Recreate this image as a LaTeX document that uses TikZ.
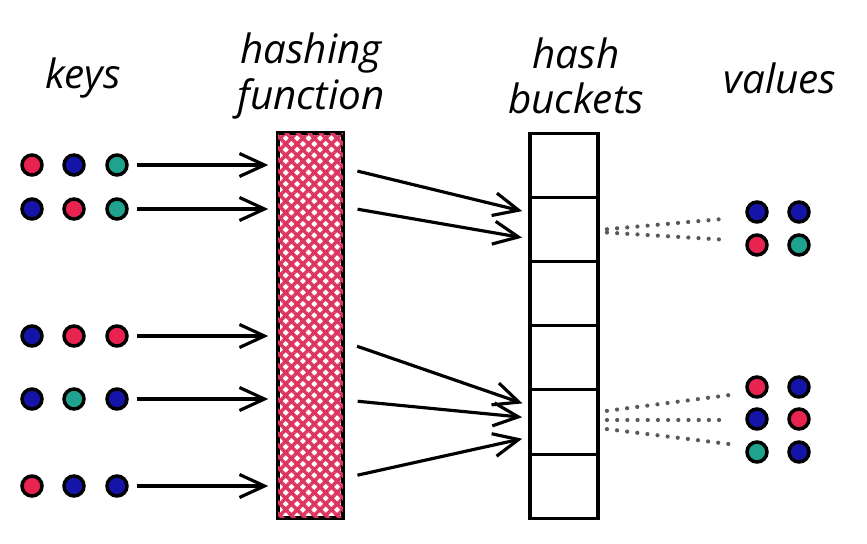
\documentclass[tikz,border=0pt]{standalone}
\usepackage{fontspec}
\setmainfont{Open Sans}
\usepackage{tikz}
\usetikzlibrary{arrows.meta,patterns.meta}
\definecolor{keyred}{HTML}{E8234F}
\definecolor{keyblue}{HTML}{1414A8}
\definecolor{keyteal}{HTML}{1FA38F}
\definecolor{hatchred}{HTML}{DC3560}

\begin{document}
\begin{tikzpicture}[
  x=0.02cm,y=-0.02cm,
  label/.style={font=\fontsize{23}{26}\selectfont\itshape,align=center},
  dot/.style={circle,draw=black,line width=2pt,minimum size=0.4cm,inner sep=0pt},
  bucket/.style={draw=black,line width=1.8pt,minimum width=1.36cm,minimum height=1.284cm,
    outer sep=0pt},
  flow/.style={line width=1.8pt,-{Straight Barb[length=0.5cm,width=0.46cm,line width=1.8pt]}},
  link/.style={line width=2.4pt,line cap=round,dash pattern=on 0pt off 5.8pt,black!65}
]
\useasboundingbox (0,0) rectangle (867,544);
% titles
\node[label] (tkeys) at (83,78) {keys};
\node[label] (thash) at (311,76) {hashing\\function};
\node[label] (tbuck) at (576,76) {hash\\buckets};
\node[label] (tvals) at (780,78) {values};
% hashing function
\node[draw=black,line width=1.8pt,minimum width=1.3cm,minimum height=7.7cm,
  pattern={Lines[angle=45,distance=4.6pt,line width=2pt]},pattern color=hatchred,
  postaction={pattern={Lines[angle=-45,distance=4.6pt,line width=2pt]},pattern color=hatchred}]
  (hash) at (310.5,325.5) {};
% hash buckets
\foreach \i in {1,...,6}{
  \node[bucket] (b\i) at (564,{101+64.2*\i}) {};
}
% keys
\foreach \r/\y/\ca/\cb/\cc in {1/165/keyred/keyblue/keyteal,2/209/keyblue/keyred/keyteal,
    3/336/keyblue/keyred/keyred,4/399/keyblue/keyteal/keyblue,5/486/keyred/keyblue/keyblue}{
  \node[dot,fill=\ca] (k\r a) at (32,\y) {};
  \node[dot,fill=\cb] (k\r b) at (74,\y) {};
  \node[dot,fill=\cc] (k\r c) at (117,\y) {};
  \draw[flow,shorten <=0.16cm,shorten >=0.16cm] (k\r c.east) -- (hash.west |- k\r c);
}
% hash to buckets
\foreach \i/\ys/\bk/\ye in {1/168/2/213,2/207/2/239,3/342/5/406,4/400/5/418,5/478/5/437}{
  \coordinate (hs\i) at (hash.east |- 0,\ys);
  \coordinate (be\i) at (b\bk.west |- 0,\ye);
  \draw[flow,shorten <=0.26cm,shorten >=0.16cm] (hs\i) -- (be\i);
}
% values
\foreach \r/\y/\ca/\cb in {1/212/keyblue/keyblue,2/245/keyred/keyteal,
    3/387/keyred/keyblue,4/419/keyblue/keyred,5/452/keyteal/keyblue}{
  \node[dot,fill=\ca] (v\r a) at (757,\y) {};
  \node[dot,fill=\cb] (v\r b) at (799,\y) {};
}
% links from buckets to values
\foreach \i/\ys/\bk/\ye in {1/230/2/217,2/232/2/241,3/412/5/393,4/420/5/420,5/428/5/446}{
  \coordinate (ls\i) at (b\bk.east |- 0,\ys);
  \coordinate (le\i) at (v1a.west |- 0,\ye);
  \draw[link,shorten <=0.18cm,shorten >=0.34cm] (ls\i) -- (le\i);
}
\end{tikzpicture}
\end{document}
